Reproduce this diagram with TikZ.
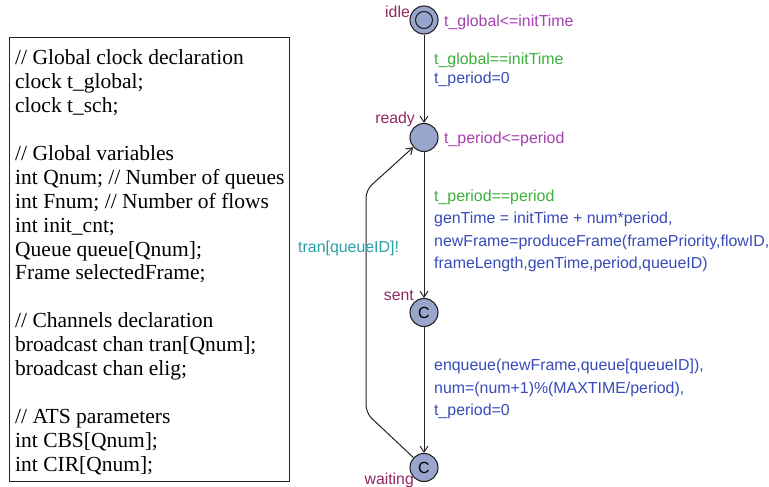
\documentclass[tikz,border=0pt]{standalone}
\usepackage{fontspec}
\setmainfont{Liberation Serif}
\setsansfont{Liberation Sans}
\usetikzlibrary{arrows.meta}

\definecolor{locname}{RGB}{145,40,95}
\definecolor{invcol}{RGB}{165,65,175}
\definecolor{guardcol}{RGB}{60,175,60}
\definecolor{updcol}{RGB}{55,75,185}
\definecolor{synccol}{RGB}{40,160,170}
\definecolor{locfill}{RGB}{152,165,205}
\definecolor{edgecol}{RGB}{35,35,35}

\tikzset{
  declline/.style={anchor=base west, inner sep=0pt,
    font=\fontsize{21.5}{24}\selectfont\rmfamily},
  loc/.style={circle, draw=edgecol, fill=locfill, line width=1.1pt,
    minimum size=28pt, inner sep=0pt, font=\fontsize{16}{18}\selectfont\sffamily},
  lname/.style={anchor=base east, inner sep=0pt, text=locname,
    font=\fontsize{15.8}{18}\selectfont\sffamily},
  lab/.style={anchor=base west, inner sep=0pt,
    font=\fontsize{15.9}{18}\selectfont\sffamily},
  inv/.style={lab, text=invcol},
  guard/.style={lab, text=guardcol},
  upd/.style={lab, text=updcol},
  sync/.style={lab, text=synccol},
  trans/.style={draw=edgecol, line width=1pt,
    -{Straight Barb[length=6pt,width=8pt,line width=1pt]}}
}

\begin{document}
\begin{tikzpicture}[x=1pt,y=-1pt]
\useasboundingbox (0,0) rectangle (769,487);

% declarations panel
\node[draw=edgecol, line width=1pt, minimum width=280pt, minimum height=444pt,
      anchor=north west, inner sep=0pt] (declbox) at (9,37) {};
\node[declline] (d1)  at (15,65.0)  {// Global clock declaration};
\node[declline] (d2)  at (15,88.9)  {clock t\_global;};
\node[declline] (d3)  at (15,112.8) {clock t\_sch;};
\node[declline] (d5)  at (15,160.5) {// Global variables};
\node[declline] (d6)  at (15,184.4) {int Qnum; // Number of queues};
\node[declline] (d7)  at (15,208.3) {int Fnum; // Number of flows};
\node[declline] (d8)  at (15,232.2) {int init\_cnt;};
\node[declline] (d9)  at (15,256.0) {Queue queue[Qnum];};
\node[declline] (d10) at (15,279.9) {Frame selectedFrame;};
\node[declline] (d12) at (15,327.7) {// Channels declaration};
\node[declline] (d13) at (15,351.6) {broadcast chan tran[Qnum];};
\node[declline] (d14) at (15,375.4) {broadcast chan elig;};
\node[declline] (d16) at (15,423.2) {// ATS parameters};
\node[declline] (d17) at (15,447.1) {int CBS[Qnum];};
\node[declline] (d18) at (15,471.0) {int CIR[Qnum];};

% locations
\node[loc] (idle)    at (424,20)    {};
\node[circle, draw=edgecol, line width=1.1pt, minimum size=17pt, inner sep=0pt]
      (idleinit) at (idle.center) {};
\node[loc] (ready)   at (424,137.5) {};
\node[loc] (sent)    at (424,312.5) {C};
\node[loc] (waiting) at (424,467.5) {C};

% location names
\node[lname] (nidle)    at (410,18)  {idle};
\node[lname] (nready)   at (415,124) {ready};
\node[lname] (nsent)    at (414,300) {sent};
\node[lname] (nwaiting) at (414,484) {waiting};

% invariants
\node[inv] (iidle)  at (444,26.5) {t\_global<=initTime};
\node[inv] (iready) at (444,143)  {t\_period<=period};

% transitions
\draw[trans] (idle) -- (ready);
\draw[trans] (ready) -- (sent);
\draw[trans] (sent) -- (waiting);
\coordinate (bk1) at (366,413);
\coordinate (bk2) at (366,190);
\draw[trans, rounded corners=8pt] (waiting) -- (bk1) -- (bk2) -- (ready);

% transition labels
\node[guard] (g1) at (434,65)   {t\_global==initTime};
\node[upd]   (u1) at (434,83.5) {t\_period=0};

\node[guard] (g2) at (434,201.5) {t\_period==period};
\node[upd]   (u2a) at (434,223.5) {genTime = initTime + num*period,};
\node[upd]   (u2b) at (434,246)   {newFrame=produceFrame(framePriority,flowID,};
\node[upd]   (u2c) at (434,268.5) {frameLength,genTime,period,queueID)};

\node[upd]   (u3a) at (434,370.7) {enqueue(newFrame,queue[queueID]),};
\node[upd]   (u3b) at (434,393)   {num=(num+1)\%(MAXTIME/period),};
\node[upd]   (u3c) at (434,415.3) {t\_period=0};

\node[sync]  (s4) at (298,252) {tran[queueID]!};
\end{tikzpicture}
\end{document}
